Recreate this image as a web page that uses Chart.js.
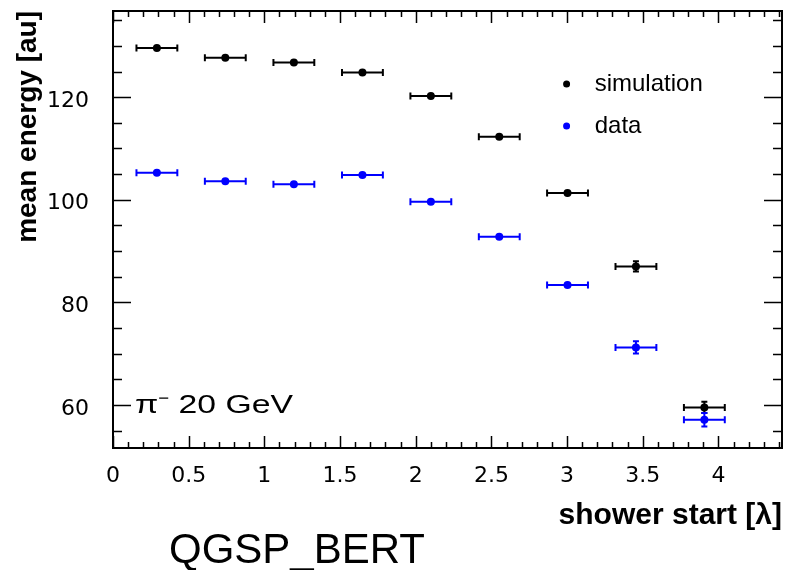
<!DOCTYPE html>
<html>
<head>
<meta charset="utf-8">
<script src="https://cdn.jsdelivr.net/npm/chart.js@4.4.1/dist/chart.umd.min.js"></script>
<style>
  html, body { margin: 0; padding: 0; background: #fff; }
</style>
</head>
<body>
<canvas id="canvas" width="786" height="570"></canvas>
<script>
// shower start bins (lambda) and half widths
var showerStart = [0.29, 0.742, 1.195, 1.648, 2.1, 2.552, 3.003, 3.455, 3.907];
var showerErr   = [0.135, 0.135, 0.135, 0.135, 0.135, 0.135, 0.135, 0.135, 0.135];

var simEnergy    = [129.6, 127.7, 126.75, 124.8, 120.25, 112.3, 101.3, 87.0, 59.5];
var simEnergyErr = [0.3, 0.3, 0.3, 0.3, 0.4, 0.5, 0.6, 1.0, 1.1];

var dataEnergy    = [105.25, 103.6, 103.0, 104.85, 99.6, 92.8, 83.4, 71.2, 57.1];
var dataEnergyErr = [0.3, 0.3, 0.3, 0.3, 0.4, 0.5, 0.6, 1.2, 1.3];

var font = "'Liberation Sans', Arial, Helvetica, sans-serif";
var tickFont = "'DejaVu Sans', sans-serif";

function points(ys, yerr) {
    return ys.map(function(y, i) {
        return { x: showerStart[i], y: y, xe: showerErr[i], ye: yerr[i] };
    });
}

// ROOT style frame with inward ticks on all four sides
var rootFrame = {
    id: 'rootFrame',
    beforeDatasetsDraw: function(chart) {
        var ctx = chart.ctx, a = chart.chartArea;
        var sx = chart.scales.x, sy = chart.scales.y;
        ctx.save();
        ctx.strokeStyle = '#000';
        ctx.lineWidth = 1.5;
        ctx.beginPath();
        for (var i = 0; i <= 44; i++) {
            var px = Math.round(sx.getPixelForValue(i / 10)) + 0.5;
            var len = (i % 5 == 0) ? 12 : 6;
            ctx.moveTo(px, a.bottom); ctx.lineTo(px, a.bottom - len);
            ctx.moveTo(px, a.top); ctx.lineTo(px, a.top + len);
        }
        for (var v = 55; v <= 135; v += 5) {
            var py = Math.round(sy.getPixelForValue(v)) + 0.5;
            var l2 = (v % 20 == 0) ? 18 : 9;
            ctx.moveTo(a.left, py); ctx.lineTo(a.left + l2, py);
            ctx.moveTo(a.right, py); ctx.lineTo(a.right - l2, py);
        }
        ctx.stroke();
        ctx.lineWidth = 2;
        ctx.strokeRect(a.left, a.top, a.right - a.left, a.bottom - a.top);
        ctx.restore();
    }
};

var errorBars = {
    id: 'errorBars',
    beforeDatasetsDraw: function(chart) {
        var ctx = chart.ctx, sx = chart.scales.x, sy = chart.scales.y;
        ctx.save();
        ctx.lineWidth = 2;
        chart.data.datasets.forEach(function(ds) {
            ctx.strokeStyle = ds.borderColor;
            ds.data.forEach(function(p) {
                var x0 = sx.getPixelForValue(p.x - p.xe), x1 = sx.getPixelForValue(p.x + p.xe);
                var y0 = sy.getPixelForValue(p.y - p.ye), y1 = sy.getPixelForValue(p.y + p.ye);
                var px = sx.getPixelForValue(p.x), py = sy.getPixelForValue(p.y);
                ctx.beginPath();
                ctx.moveTo(x0, py); ctx.lineTo(x1, py);
                ctx.moveTo(x0, py - 3.5); ctx.lineTo(x0, py + 3.5);
                ctx.moveTo(x1, py - 3.5); ctx.lineTo(x1, py + 3.5);
                ctx.moveTo(px, y0); ctx.lineTo(px, y1);
                if (Math.abs(y0 - y1) > 8) {
                    ctx.moveTo(px - 3, y0); ctx.lineTo(px + 3, y0);
                    ctx.moveTo(px - 3, y1); ctx.lineTo(px + 3, y1);
                }
                ctx.stroke();
            });
        });
        ctx.restore();
    }
};

var legendAndText = {
    id: 'legendAndText',
    afterDraw: function(chart) {
        var ctx = chart.ctx, a = chart.chartArea;
        var w = a.right - a.left, h = a.bottom - a.top;
        ctx.save();
        ctx.textBaseline = 'middle';
        ctx.font = '24px ' + font;
        chart.data.datasets.forEach(function(ds, i) {
            var ly = a.top + h * (0.167 + i * 0.096);
            ctx.fillStyle = ds.backgroundColor;
            ctx.beginPath();
            ctx.arc(a.left + w * 0.678, ly, 3.5, 0, Math.PI * 2);
            ctx.fill();
            ctx.fillStyle = '#000';
            ctx.fillText(ds.label, a.left + w * 0.72, ly);
        });
        ctx.textBaseline = 'alphabetic';
        // the label in the picture is drawn wide
        ctx.save();
        ctx.translate(135, 413);
        ctx.scale(1.35, 1);
        ctx.font = '25px ' + font;
        ctx.fillText('\u03C0\u207B 20 GeV', 0, 0);
        ctx.restore();
        ctx.font = '42px ' + font;
        ctx.fillText('QGSP_BERT', 169, 563);
        ctx.restore();
    }
};

var ctx = document.getElementById('canvas').getContext('2d');
var config = {
    type: 'scatter',
    data: {
        datasets: [{
            label: 'simulation',
            data: points(simEnergy, simEnergyErr),
            backgroundColor: '#000000',
            borderColor: '#000000',
            pointRadius: 4,
            pointBorderWidth: 0
        }, {
            label: 'data',
            data: points(dataEnergy, dataEnergyErr),
            backgroundColor: '#0000ff',
            borderColor: '#0000ff',
            pointRadius: 4,
            pointBorderWidth: 0
        }]
    },
    options: {
        responsive: false,
        animation: false,
        devicePixelRatio: 1,
        layout: { padding: { left: 0, right: 3, top: 11, bottom: 0 } },
        plugins: { legend: { display: false }, tooltip: { enabled: false } },
        scales: {
            x: {
                type: 'linear', min: 0, max: 4.42,
                grid: { display: false, drawTicks: false },
                border: { display: false },
                ticks: { stepSize: 0.5, includeBounds: false, color: '#000', padding: 15,
                         font: { family: tickFont, size: 22 },
                         callback: function(v) { return String(Math.round(v * 10) / 10); } },
                title: { display: true, text: 'shower start [\u03BB]', align: 'end', color: '#000',
                         font: { family: font, size: 30, weight: 'bold' }, padding: { bottom: 36 } },
                afterFit: function(scale) {
                    scale.height = 122;
                    scale.paddingLeft = 0; scale.paddingRight = 0;
                }
            },
            y: {
                min: 51.6, max: 136.8,
                grid: { display: false, drawTicks: false },
                border: { display: false },
                ticks: { stepSize: 20, includeBounds: false, color: '#000', padding: 24, labelOffset: 4,
                         font: { family: tickFont, size: 22 } },
                title: { display: true, text: 'mean energy [au]', align: 'end', color: '#000',
                         font: { family: font, size: 28, weight: 'bold' }, padding: { top: 11 } },
                afterFit: function(scale) {
                    scale.width = 113;
                    scale.paddingTop = 0; scale.paddingBottom = 0;
                }
            }
        }
    },
    plugins: [rootFrame, errorBars, legendAndText]
};
var chart = new Chart(ctx, config);
</script>
</body>
</html>
